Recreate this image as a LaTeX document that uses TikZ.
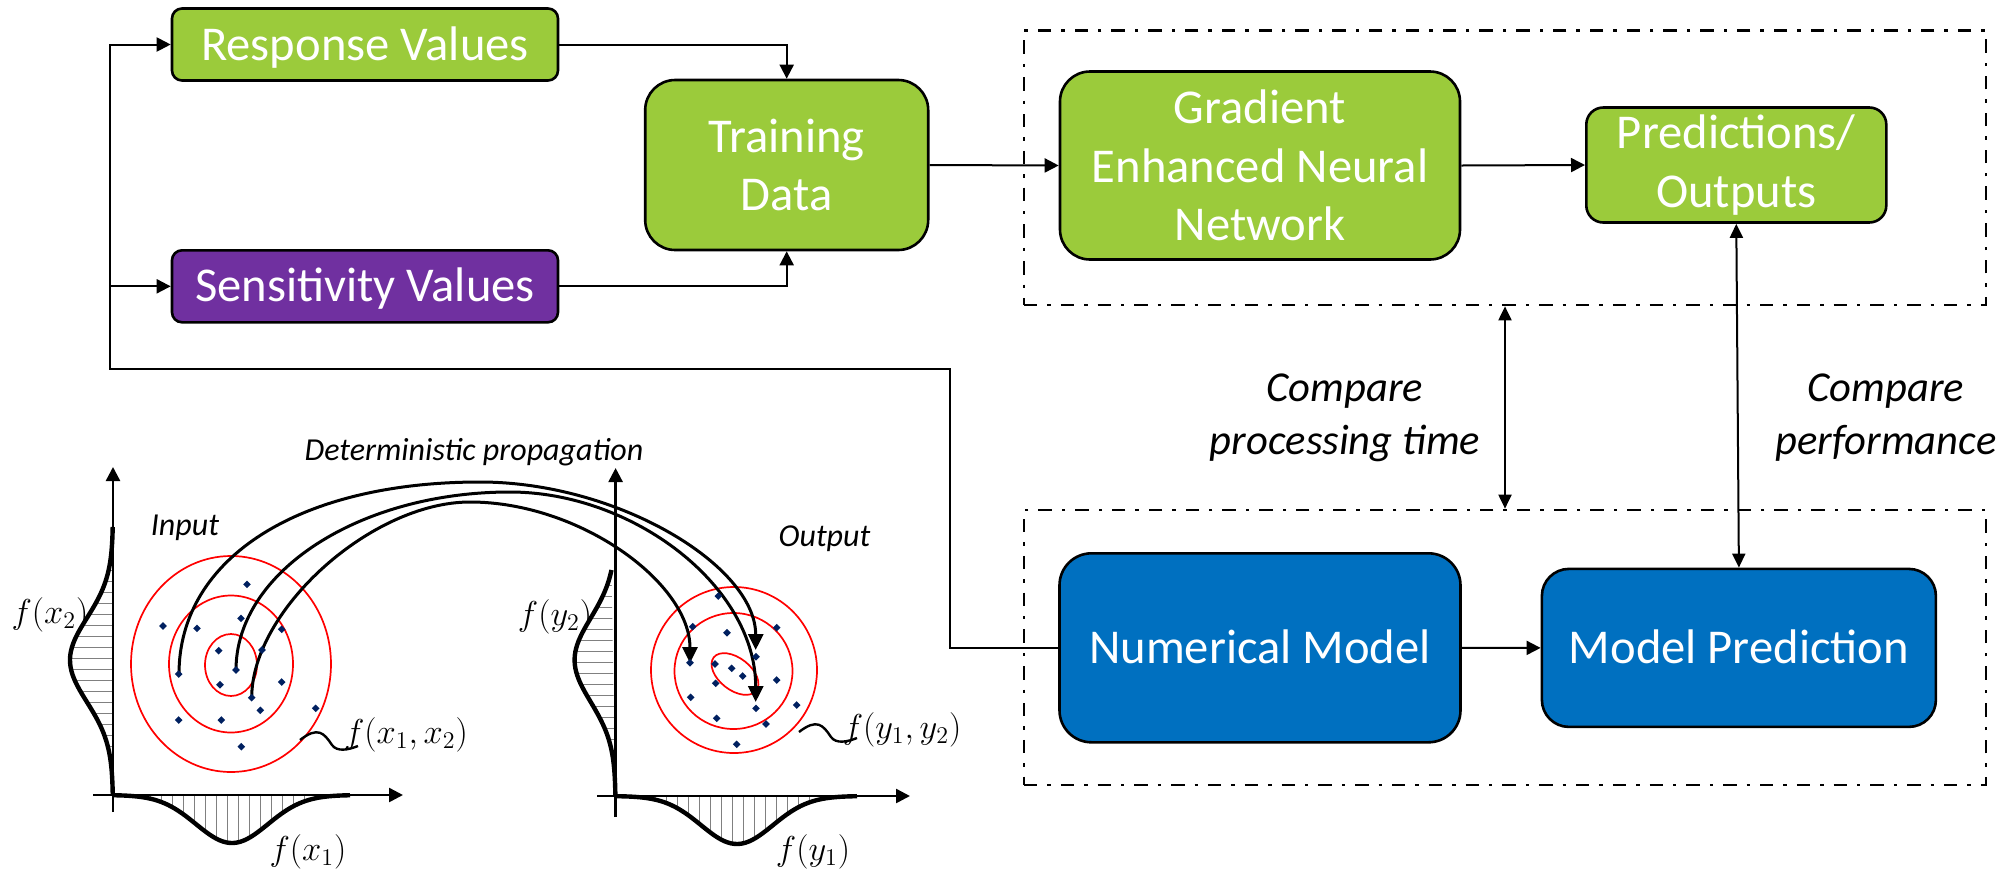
\documentclass[tikz,border=0pt]{standalone}
\usepackage{fontspec}
\newfontfamily\calibri{Carlito}
\usetikzlibrary{arrows.meta}
\definecolor{boxgreen}{HTML}{9BCB3B}
\definecolor{boxpurple}{HTML}{7030A0}
\definecolor{boxblue}{HTML}{0070C0}
\definecolor{ptblue}{HTML}{002060}
\begin{document}
\begin{tikzpicture}[x=0.5pt,y=-0.5pt,
  box/.style={draw=black,line width=1.3pt,text=white,align=center,inner sep=0pt,
    font=\calibri\fontsize{24.3}{29.3}\selectfont},
  oneline/.style={text height=15.6pt,text depth=0pt},
  frame/.style={draw=black,line width=1.35pt,dash pattern=on 6.7pt off 5pt on 1.7pt off 5pt,
    minimum width=481pt,inner sep=0pt},
  conn/.style={line width=1pt,-{Triangle[length=7pt,width=7pt]}},
  dconn/.style={line width=1pt,{Triangle[length=7pt,width=6.5pt]}-{Triangle[length=7pt,width=6.5pt]}},
  cmp/.style={font=\calibri\itshape\fontsize{21.3}{26.5}\selectfont,align=center,inner sep=0pt},
  small/.style={font=\calibri\itshape\fontsize{16}{18}\selectfont,inner sep=0pt,anchor=base},
  mlab/.style={font=\fontsize{16.5}{19}\selectfont,inner sep=0pt},
  axis/.style={line width=1.25pt,-{Triangle[length=7pt,width=7pt]}},
  dens/.style={line width=2.2pt},
  hatch/.style={draw=gray,line width=0.5pt},
  ring/.style={draw=red,line width=0.85pt},
  arc/.style={line width=1.5pt,-{Triangle[length=8pt,width=7.5pt]}},
  leader/.style={line width=1.2pt}]
\useasboundingbox (0,0) rectangle (2015,869);

% ---------- dash-dotted frames ----------
\node[frame,minimum height=137.15pt] (topframe) at (1505,167.85) {};
\node[frame,minimum height=137.5pt] (botframe) at (1505,647.5) {};

% ---------- boxes ----------
\node[box,oneline,fill=boxgreen,minimum width=193pt,minimum height=36pt,rounded corners=5pt]
  (resp) at (365,44.5) {Response Values};
\node[box,oneline,fill=boxpurple,minimum width=193pt,minimum height=36pt,rounded corners=5pt]
  (sens) at (365,286.3) {Sensitivity Values};
\node[box,fill=boxgreen,minimum width=141.5pt,minimum height=85pt,rounded corners=15pt]
  (train) at (786.7,165) {Training\\Data};
\node[box,fill=boxgreen,minimum width=200pt,minimum height=94pt,rounded corners=15pt]
  (grad) at (1260,165.5) {Gradient\\Enhanced Neural\\Network};
\node[box,fill=boxgreen,minimum width=150pt,minimum height=57.5pt,rounded corners=8.5pt]
  (pred) at (1736.3,165) {Predictions/\\Outputs};
\node[box,oneline,fill=boxblue,minimum width=200.5pt,minimum height=94.5pt,rounded corners=16pt]
  (nm) at (1260,647.8) {Numerical Model};
\node[box,oneline,fill=boxblue,minimum width=197pt,minimum height=79pt,rounded corners=13.5pt]
  (mp) at (1738.9,647.9) {Model Prediction};

% ---------- connectors ----------
\coordinate (jx) at (950,369.3);
\coordinate (lx) at (110,369.3);
\coordinate (tcx) at (1505,400);
\draw[conn] (nm.west) -| (jx) -- (lx) |- (resp.west);
\draw[conn] (lx |- sens.west) -- (sens.west);
\draw[conn] (resp.east) -| (train.north);
\draw[conn] (sens.east) -| (train.south);
\draw[conn] (train.east) -- (grad.west);
\draw[conn] (grad.east) -- (pred.west);
\draw[conn] (nm.east) -- (mp.west);
\draw[dconn] (pred.south) -- (mp.north);
\draw[dconn] (topframe.south -| tcx) -- (botframe.north -| tcx);

\node[cmp] (cmptime) at (1345,418) {Compare\\processing time};
\node[cmp] (cmpperf) at (1886,418) {Compare\\performance};

% ---------- input distribution ----------
\begin{scope}
  \clip plot[domain=527:795,samples=70] ({113-43*exp(-0.5*((\x-660)/42)*((\x-660)/42))},\x) -- cycle;
  \foreach \v in {570,581,...,760} \draw[hatch] (60,\v) -- (113,\v);
\end{scope}
\begin{scope}
  \clip plot[domain=113:350,samples=70] (\x,{795+48*exp(-0.5*((\x-232)/36)*((\x-232)/36))}) -- cycle;
  \foreach \u in {150,161,...,320} \draw[hatch] (\u,795) -- (\u,850);
\end{scope}
\draw[axis] (113,812) -- (113,467);
\draw[axis] (93,795) -- (403,795);
\draw[dens] plot[domain=527:795,samples=70] ({113-43*exp(-0.5*((\x-660)/42)*((\x-660)/42))},\x);
\draw[dens] plot[domain=113:350,samples=70] (\x,{795+48*exp(-0.5*((\x-232)/36)*((\x-232)/36))});

\draw[ring] (231,664) ellipse [x radius=100,y radius=108];
\draw[ring] (231,664) ellipse [x radius=62,y radius=68.5];
\draw[ring] (231,665) ellipse [x radius=26,y radius=31];

% ---------- output distribution ----------
\begin{scope}
  \clip plot[domain=570:796,samples=70] ({615.6-41*exp(-0.5*((\x-660)/42)*((\x-660)/42))},\x) -- cycle;
  \foreach \v in {585,596,...,760} \draw[hatch] (560,\v) -- (615.6,\v);
\end{scope}
\begin{scope}
  \clip plot[domain=615.6:857,samples=70] (\x,{796+48*exp(-0.5*((\x-737)/36)*((\x-737)/36))}) -- cycle;
  \foreach \u in {655,666,...,825} \draw[hatch] (\u,796) -- (\u,850);
\end{scope}
\draw[axis] (615.6,817) -- (615.6,468);
\draw[axis] (597,796) -- (910,796);
\draw[dens] plot[domain=570:796,samples=70] ({615.6-41*exp(-0.5*((\x-660)/42)*((\x-660)/42))},\x);
\draw[dens] plot[domain=615.6:857,samples=70] (\x,{796+48*exp(-0.5*((\x-737)/36)*((\x-737)/36))});

\draw[ring] (734,670) circle [radius=83];
\draw[ring] (733.5,671) ellipse [x radius=59,y radius=58];
\draw[ring,rotate around={-38:(735,674)}] (735,674) ellipse [x radius=27,y radius=16];

% ---------- propagation arcs ----------
\coordinate (a0) at (179,674);   \coordinate (atop) at (480,482);  \coordinate (a1) at (755.7,650);
\coordinate (b0) at (236,670);   \coordinate (btop) at (510,492);  \coordinate (b1) at (755.7,702);
\coordinate (c0) at (251.7,697.7); \coordinate (ctop) at (470,502); \coordinate (c1) at (690,663);
\draw[arc] (a0) .. controls +(0,-116) and +(-181,0) .. (atop) .. controls +(138,0) and +(0,-84) .. (a1);
\draw[arc] (b0) .. controls +(0,-98) and +(-151,0) .. (btop) .. controls +(123,0) and +(0,-116) .. (b1);
\draw[arc] (c0) .. controls +(0,-88) and +(-98,0) .. (ctop) .. controls +(110,0) and +(0,-80) .. (c1);

% ---------- sample points ----------
\foreach \p in {(247,584.3),(163,626),(197,628.3),(241,618.3),(281.7,629.3),(218.7,650.7),
  (262,650),(178.7,674),(236,670),(220,684.7),(281.7,682),(251.7,697.7),(260.3,710.3),
  (315.7,708.3),(178.7,720),(221.3,720),(241.3,746.7),
  (718.3,596),(692.7,626.7),(727,632.7),(776.7,627.7),(756,656.7),(715,664),(731.7,668.3),
  (742.7,676),(690,662.7),(776.7,680),(715.7,683.3),(690.7,697.3),(756,708.3),(796.7,705),
  (716.7,718.3),(766,724),(736.7,744.3)}
  \fill[ptblue] \p ++(0,-3.8) -- ++(3.8,3.8) -- ++(-3.8,3.8) -- ++(-3.8,-3.8) -- cycle;

% ---------- leaders and labels ----------
\draw[leader] (300,740) .. controls (318,726) and (324,733) .. (332,745) .. controls (337,752) and (348,750) .. (358,746);
\draw[leader] (799,732) .. controls (817,718) and (823,725) .. (831,737) .. controls (836,744) and (847,742) .. (857,738);

\node[small] (inlab) at (185,535) {Input};
\node[small] (outlab) at (824.5,546) {Output};
\node[small] (proplab) at (474,460) {Deterministic propagation};

\node[mlab] (fx2) at (50,615) {$f(x_2)$};
\node[mlab] (fx1) at (308,852) {$f(x_1)$};
\node[mlab] (fx12) at (406,735) {$f(x_1,x_2)$};
\node[mlab] (fy2) at (555,617) {$f(y_2)$};
\node[mlab] (fy1) at (813,852) {$f(y_1)$};
\node[mlab] (fy12) at (902,730) {$f(y_1,y_2)$};
\end{tikzpicture}
\end{document}
